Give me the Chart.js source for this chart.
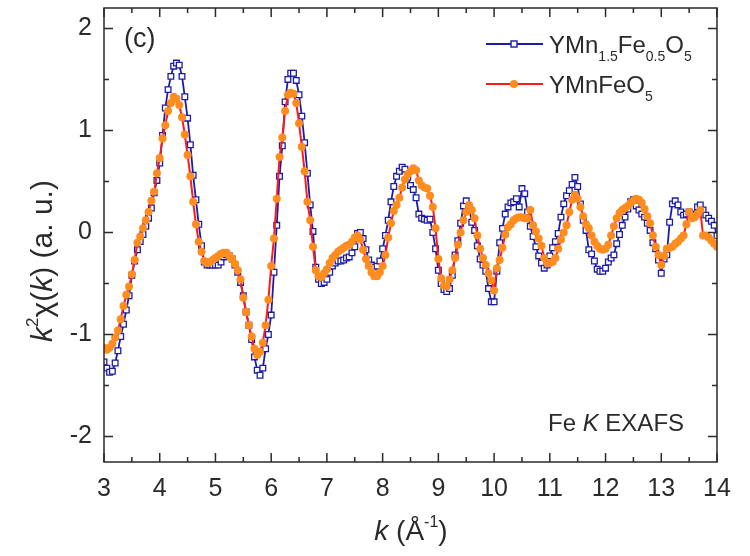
<!DOCTYPE html>
<html>
<head>
<meta charset="utf-8">
<script src="https://cdn.jsdelivr.net/npm/chart.js@4.4.1/dist/chart.umd.min.js"></script>
<style>
  html, body { margin: 0; padding: 0; background: #fff; }
</style>
</head>
<body>
<canvas id="myChart" width="750" height="556"></canvas>
<script>
// k grid of the EXAFS data (Å^-1)
const kStart = 3.0;
const kStep = 0.05;

// YMn1.5Fe0.5O5 - k^2 chi(k), one row per 1 Å^-1
const blueChi = [
  -1.27,-1.33,-1.37,-1.36,-1.28,-1.16,-1.02,-0.90,-0.76,-0.62,-0.42,-0.28,-0.17,-0.09,-0.02,0.06,0.14,0.24,0.39,0.51,
  0.68,0.95,1.22,1.40,1.53,1.63,1.66,1.64,1.53,1.33,1.12,0.86,0.56,0.32,0.08,-0.13,-0.29,-0.32,-0.32,-0.32,
  -0.32,-0.32,-0.29,-0.24,-0.22,-0.23,-0.26,-0.32,-0.39,-0.49,-0.62,-0.78,-0.91,-1.05,-1.22,-1.35,-1.40,-1.33,-1.14,-1.00,
  -0.81,-0.39,0.07,0.55,0.85,1.28,1.50,1.56,1.56,1.49,1.35,1.14,0.88,0.58,0.27,0.01,-0.34,-0.46,-0.50,-0.49,
  -0.46,-0.39,-0.33,-0.30,-0.28,-0.28,-0.27,-0.25,-0.24,-0.20,-0.14,-0.01,0.00,-0.06,-0.17,-0.27,-0.32,-0.34,-0.33,-0.28,
  -0.16,-0.03,0.12,0.30,0.45,0.55,0.60,0.64,0.62,0.54,0.46,0.42,0.34,0.18,0.14,0.13,0.12,0.13,0.00,-0.16,
  -0.37,-0.50,-0.56,-0.58,-0.55,-0.42,-0.22,-0.08,0.09,0.26,0.31,0.25,0.10,0.02,-0.13,-0.26,-0.32,-0.38,-0.55,-0.68,
  -0.68,-0.38,-0.10,0.04,0.18,0.25,0.29,0.30,0.33,0.25,0.43,0.38,0.20,0.06,-0.04,-0.14,-0.23,-0.30,-0.35,-0.32,
  -0.23,-0.15,-0.09,-0.01,0.15,0.28,0.36,0.41,0.47,0.54,0.45,0.28,0.12,0.02,-0.17,-0.21,-0.28,-0.36,-0.38,-0.38,
  -0.35,-0.29,-0.25,-0.22,-0.11,-0.02,0.07,0.15,0.23,0.30,0.32,0.26,0.22,0.18,0.15,0.09,0.02,-0.10,-0.16,-0.27,
  -0.40,-0.26,-0.22,0.10,0.28,0.31,0.27,0.20,0.17,0.18,0.20,0.18,0.17,0.25,0.27,0.22,0.17,0.14,0.11,0.07,
  -0.03
];

// YMnFeO5 - k^2 chi(k)
const orangeChi = [
  -1.13,-1.15,-1.13,-1.09,-1.03,-0.96,-0.85,-0.72,-0.61,-0.53,-0.41,-0.27,-0.10,-0.04,0.04,0.12,0.20,0.31,0.40,0.58,
  0.73,0.92,1.05,1.19,1.27,1.33,1.31,1.25,1.13,0.96,0.76,0.55,0.30,0.08,-0.09,-0.19,-0.28,-0.30,-0.29,-0.27,
  -0.25,-0.23,-0.21,-0.20,-0.20,-0.23,-0.26,-0.31,-0.37,-0.46,-0.64,-0.78,-0.91,-1.02,-1.14,-1.20,-1.17,-1.08,-0.91,-0.66,
  -0.33,-0.06,0.33,0.74,0.93,1.19,1.35,1.37,1.36,1.27,1.07,0.84,0.60,0.30,0.12,-0.14,-0.37,-0.43,-0.44,-0.40,
  -0.36,-0.30,-0.25,-0.22,-0.19,-0.17,-0.15,-0.13,-0.12,-0.09,-0.05,-0.03,-0.07,-0.17,-0.26,-0.33,-0.39,-0.43,-0.43,-0.39,
  -0.33,-0.22,-0.05,0.09,0.21,0.27,0.34,0.44,0.52,0.57,0.60,0.63,0.61,0.51,0.46,0.44,0.43,0.36,0.25,0.04,
  -0.26,-0.45,-0.52,-0.53,-0.46,-0.37,-0.25,-0.12,0.00,0.12,0.20,0.27,0.22,0.14,-0.03,-0.16,-0.25,-0.32,-0.40,-0.47,
  -0.57,-0.35,-0.27,-0.15,-0.02,0.05,0.08,0.12,0.14,0.15,0.15,0.14,0.14,0.22,0.07,0.01,-0.06,-0.13,-0.25,-0.30,
  -0.30,-0.29,-0.25,-0.16,-0.07,0.00,0.07,0.20,0.32,0.37,0.33,0.25,0.16,0.08,0.04,-0.03,-0.09,-0.13,-0.16,-0.17,
  -0.16,-0.12,-0.03,0.06,0.14,0.19,0.22,0.24,0.26,0.29,0.31,0.33,0.32,0.29,0.23,0.16,0.09,-0.03,-0.14,-0.22,
  -0.32,-0.23,-0.16,-0.15,-0.14,-0.11,-0.09,-0.06,-0.03,0.08,0.20,0.14,0.15,0.18,0.22,-0.03,-0.03,-0.05,-0.08,-0.11,
  -0.14
];

// axis ticks
const xTicks = [3, 4, 5, 6, 7, 8, 9, 10, 11, 12, 13, 14];
const xMinor = [3.5, 4.5, 5.5, 6.5, 7.5, 8.5, 9.5, 10.5, 11.5, 12.5, 13.5];
const yTicks = [-2, -1, 0, 1, 2];
const yMinor = [-1.5, -0.5, 0.5, 1.5];

const FONT = '"Liberation Sans", Arial, Helvetica, sans-serif';
const BLUE = '#1c1ca6';
const RED = '#ff1a1a';
const ORANGE = '#ff8c1f';
const INK = '#2a2a2a';

function toPoints(vals) {
  return vals.map((v, i) => ({ x: +(kStart + i * kStep).toFixed(2), y: v }));
}

// draws a row of text pieces (for sub/superscripts and italics)
function runsWidth(ctx, runs) {
  let w = 0;
  runs.forEach(r => {
    ctx.font = (r.italic ? 'italic ' : '') + r.size + 'px ' + FONT;
    w += ctx.measureText(r.t).width;
  });
  return w;
}
function drawRuns(ctx, runs, x, y, align) {
  let cx = x;
  if (align === 'center') cx = x - runsWidth(ctx, runs) / 2;
  ctx.textBaseline = 'alphabetic';
  ctx.textAlign = 'left';
  runs.forEach(r => {
    ctx.font = (r.italic ? 'italic ' : '') + r.size + 'px ' + FONT;
    ctx.fillText(r.t, cx, y + (r.dy || 0));
    cx += ctx.measureText(r.t).width;
  });
}

const decor = {
  id: 'decor',
  afterDatasetsDraw(chart) {
    const ctx = chart.ctx;
    const a = chart.chartArea;
    const xs = chart.scales.x, ys = chart.scales.y;
    ctx.save();
    ctx.strokeStyle = INK;
    ctx.lineWidth = 1.5;
    ctx.strokeRect(a.left, a.top, a.right - a.left, a.bottom - a.top);

    // inward ticks on all four sides
    ctx.beginPath();
    xTicks.forEach(v => {
      const p = xs.getPixelForValue(v);
      ctx.moveTo(p, a.bottom); ctx.lineTo(p, a.bottom - 9);
      ctx.moveTo(p, a.top); ctx.lineTo(p, a.top + 9);
    });
    xMinor.forEach(v => {
      const p = xs.getPixelForValue(v);
      ctx.moveTo(p, a.bottom); ctx.lineTo(p, a.bottom - 5);
      ctx.moveTo(p, a.top); ctx.lineTo(p, a.top + 5);
    });
    yTicks.forEach(v => {
      const p = ys.getPixelForValue(v);
      ctx.moveTo(a.left, p); ctx.lineTo(a.left + 9, p);
      ctx.moveTo(a.right, p); ctx.lineTo(a.right - 9, p);
    });
    yMinor.forEach(v => {
      const p = ys.getPixelForValue(v);
      ctx.moveTo(a.left, p); ctx.lineTo(a.left + 5, p);
      ctx.moveTo(a.right, p); ctx.lineTo(a.right - 5, p);
    });
    ctx.stroke();

    ctx.fillStyle = INK;
    // panel label and note
    drawRuns(ctx, [{ t: '(c)', size: 27 }], 124, 47, 'left');
    drawRuns(ctx, [
      { t: 'Fe ', size: 24 }, { t: 'K', size: 24, italic: true }, { t: ' EXAFS', size: 24 }
    ], 548, 431, 'left');

    // legend
    const legY1 = 44, legY2 = 84;
    ctx.lineWidth = 2;
    ctx.strokeStyle = BLUE;
    ctx.beginPath(); ctx.moveTo(486, legY1); ctx.lineTo(543, legY1); ctx.stroke();
    ctx.fillStyle = '#fff';
    ctx.lineWidth = 1.4;
    ctx.fillRect(511, legY1 - 3, 6, 6);
    ctx.strokeRect(511, legY1 - 3, 6, 6);
    ctx.strokeStyle = RED;
    ctx.lineWidth = 2.2;
    ctx.beginPath(); ctx.moveTo(486, legY2); ctx.lineTo(543, legY2); ctx.stroke();
    ctx.fillStyle = ORANGE;
    ctx.beginPath(); ctx.arc(514, legY2, 4, 0, Math.PI * 2); ctx.fill();

    ctx.fillStyle = INK;
    drawRuns(ctx, [
      { t: 'YMn', size: 24 }, { t: '1.5', size: 14, dy: 8 },
      { t: 'Fe', size: 24 }, { t: '0.5', size: 14, dy: 8 },
      { t: 'O', size: 24 }, { t: '5', size: 14, dy: 8 }
    ], 549, 53, 'left');
    drawRuns(ctx, [
      { t: 'YMnFeO', size: 24 }, { t: '5', size: 14, dy: 8 }
    ], 549, 93, 'left');

    // axis titles
    drawRuns(ctx, [
      { t: 'k', size: 28, italic: true }, { t: ' (Å', size: 28 },
      { t: '-1', size: 16, dy: -13 }, { t: ')', size: 28 }
    ], 411, 540, 'center');

    ctx.save();
    ctx.translate(52, 261);
    ctx.rotate(-Math.PI / 2);
    drawRuns(ctx, [
      { t: 'k', size: 30, italic: true }, { t: '2', size: 17, dy: -14 },
      { t: 'χ(', size: 30 }, { t: 'k', size: 30, italic: true }, { t: ') (a. u.)', size: 30 }
    ], 0, 0, 'center');
    ctx.restore();

    ctx.restore();
  }
};

const myChart = document.getElementById('myChart');

let exafsChart = new Chart(myChart, {
  type: 'line',
  data: {
    datasets: [
      {
        label: 'YMn1.5Fe0.5O5',
        data: toPoints(blueChi),
        borderColor: BLUE,
        borderWidth: 1.8,
        pointStyle: 'rect',
        pointRadius: 4,
        pointBorderWidth: 1.3,
        pointBackgroundColor: '#fff',
        pointBorderColor: BLUE,
        tension: 0,
        order: 2
      },
      {
        label: 'YMnFeO5',
        data: toPoints(orangeChi),
        borderColor: RED,
        borderWidth: 2,
        pointStyle: 'circle',
        pointRadius: 4,
        pointBorderWidth: 0,
        pointBackgroundColor: ORANGE,
        pointBorderColor: ORANGE,
        tension: 0,
        order: 1
      }
    ]
  },
  options: {
    responsive: false,
    animation: false,
    devicePixelRatio: 1,
    layout: { padding: { top: 8, right: 33, left: 0, bottom: 0 } },
    plugins: { legend: { display: false }, tooltip: { enabled: false } },
    scales: {
      x: {
        type: 'linear',
        min: 3,
        max: 14,
        afterBuildTicks: s => { s.ticks = xTicks.map(v => ({ value: v })); },
        afterFit: s => { s.height = 94; s.paddingLeft = 0; s.paddingRight = 0; },
        grid: { display: false, drawTicks: false },
        border: { display: false },
        ticks: { color: INK, font: { family: FONT, size: 25 }, padding: 12, maxRotation: 0, autoSkip: false }
      },
      y: {
        min: -2.25,
        max: 2.2,
        afterBuildTicks: s => { s.ticks = yTicks.map(v => ({ value: v })); },
        afterFit: s => { s.width = 104; s.paddingTop = 0; s.paddingBottom = 0; },
        grid: { display: false, drawTicks: false },
        border: { display: false },
        ticks: { color: INK, font: { family: FONT, size: 25 }, padding: 12 }
      }
    }
  },
  plugins: [decor]
});
</script>
</body>
</html>
